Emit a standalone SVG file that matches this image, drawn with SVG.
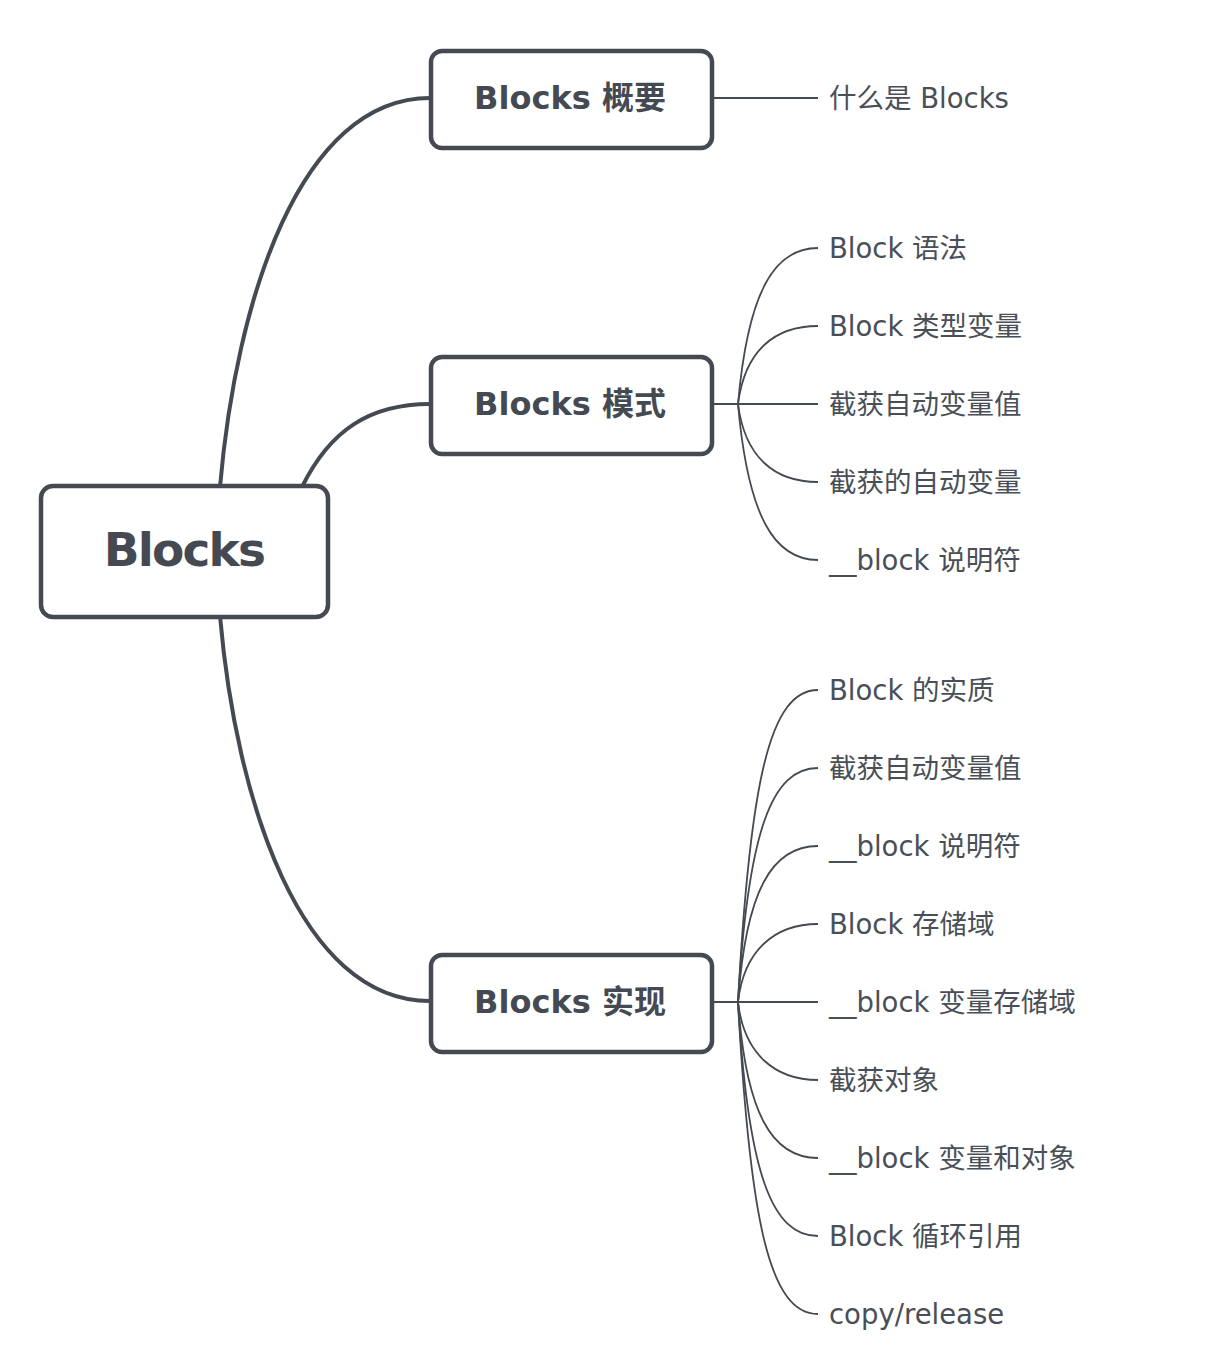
<svg xmlns="http://www.w3.org/2000/svg" width="1232" height="1360" viewBox="0 0 1232 1360">
<style>
.box{fill:#fff;stroke:#454a52;stroke-width:4.5}
.main{stroke:#454a52;stroke-width:4;fill:none;stroke-linecap:round}
.thin{stroke:#454a52;stroke-width:1.8;fill:none}
.root{font-family:"DejaVu Sans","Noto Sans CJK SC",sans-serif;font-weight:700;font-size:47px;letter-spacing:-1.8px;fill:#454a52;text-anchor:middle}
.br{font-family:"DejaVu Sans","Noto Sans CJK SC",sans-serif;font-weight:700;font-size:32px;fill:#454a52;text-anchor:middle}
.lf{font-family:"DejaVu Sans","Noto Sans CJK SC",sans-serif;font-size:27.5px;fill:#4a4f57}
</style>
<rect width="1232" height="1360" fill="#fff"/>
<g id="connectors">
<path class="main" d="M220,487 C236,300 300,98 430,98"/>
<path class="main" d="M302,487 C330,430 370,404 430,404"/>
<path class="main" d="M220,616 C236,800 300,1001 430,1001"/>
<path class="thin" d="M712,98 L818,98"/>
<path class="thin" d="M712,404 L818,404"/>
<path class="thin" d="M738,404 C748,290 775,248 818,248"/>
<path class="thin" d="M738,404 C745,350 775,326 818,326"/>
<path class="thin" d="M738,404 C745,458 775,482 818,482"/>
<path class="thin" d="M738,404 C748,518 775,560 818,560"/>
<path class="thin" d="M712,1002 L818,1002"/>
<path class="thin" d="M738,1002 C750,780 770,690 818,690"/>
<path class="thin" d="M738,1002 C748,830 772,768 818,768"/>
<path class="thin" d="M738,1002 C746,890 772,846 818,846"/>
<path class="thin" d="M738,1002 C744,950 775,924 818,924"/>
<path class="thin" d="M738,1002 C744,1054 775,1080 818,1080"/>
<path class="thin" d="M738,1002 C746,1114 772,1158 818,1158"/>
<path class="thin" d="M738,1002 C748,1174 772,1236 818,1236"/>
<path class="thin" d="M738,1002 C750,1224 770,1314 818,1314"/>
</g>
<g id="root">
<rect class="box" x="41" y="486" width="287" height="131" rx="12"/>
<text class="root" x="184" y="566">Blocks</text>
</g>
<g id="n1">
<rect class="box" x="431" y="51" width="281" height="97" rx="11"/>
<text class="br" x="570" y="109">Blocks 概要</text>
</g>
<g id="n2">
<rect class="box" x="431" y="357" width="281" height="97" rx="11"/>
<text class="br" x="570" y="415">Blocks 模式</text>
</g>
<g id="n3">
<rect class="box" x="431" y="955" width="281" height="97" rx="11"/>
<text class="br" x="570" y="1013">Blocks 实现</text>
</g>
<g id="leaf1"><text class="lf" x="829" y="108">什么是 Blocks</text></g>
<g id="leaf2"><text class="lf" x="829" y="258">Block 语法</text></g>
<g id="leaf3"><text class="lf" x="829" y="336">Block 类型变量</text></g>
<g id="leaf4"><text class="lf" x="829" y="414">截获自动变量值</text></g>
<g id="leaf5"><text class="lf" x="829" y="492">截获的自动变量</text></g>
<g id="leaf6"><text class="lf" x="829" y="570">__block 说明符</text></g>
<g id="leaf7"><text class="lf" x="829" y="700">Block 的实质</text></g>
<g id="leaf8"><text class="lf" x="829" y="778">截获自动变量值</text></g>
<g id="leaf9"><text class="lf" x="829" y="856">__block 说明符</text></g>
<g id="leaf10"><text class="lf" x="829" y="934">Block 存储域</text></g>
<g id="leaf11"><text class="lf" x="829" y="1012">__block 变量存储域</text></g>
<g id="leaf12"><text class="lf" x="829" y="1090">截获对象</text></g>
<g id="leaf13"><text class="lf" x="829" y="1168">__block 变量和对象</text></g>
<g id="leaf14"><text class="lf" x="829" y="1246">Block 循环引用</text></g>
<g id="leaf15"><text class="lf" x="829" y="1324">copy/release</text></g>
</svg>
